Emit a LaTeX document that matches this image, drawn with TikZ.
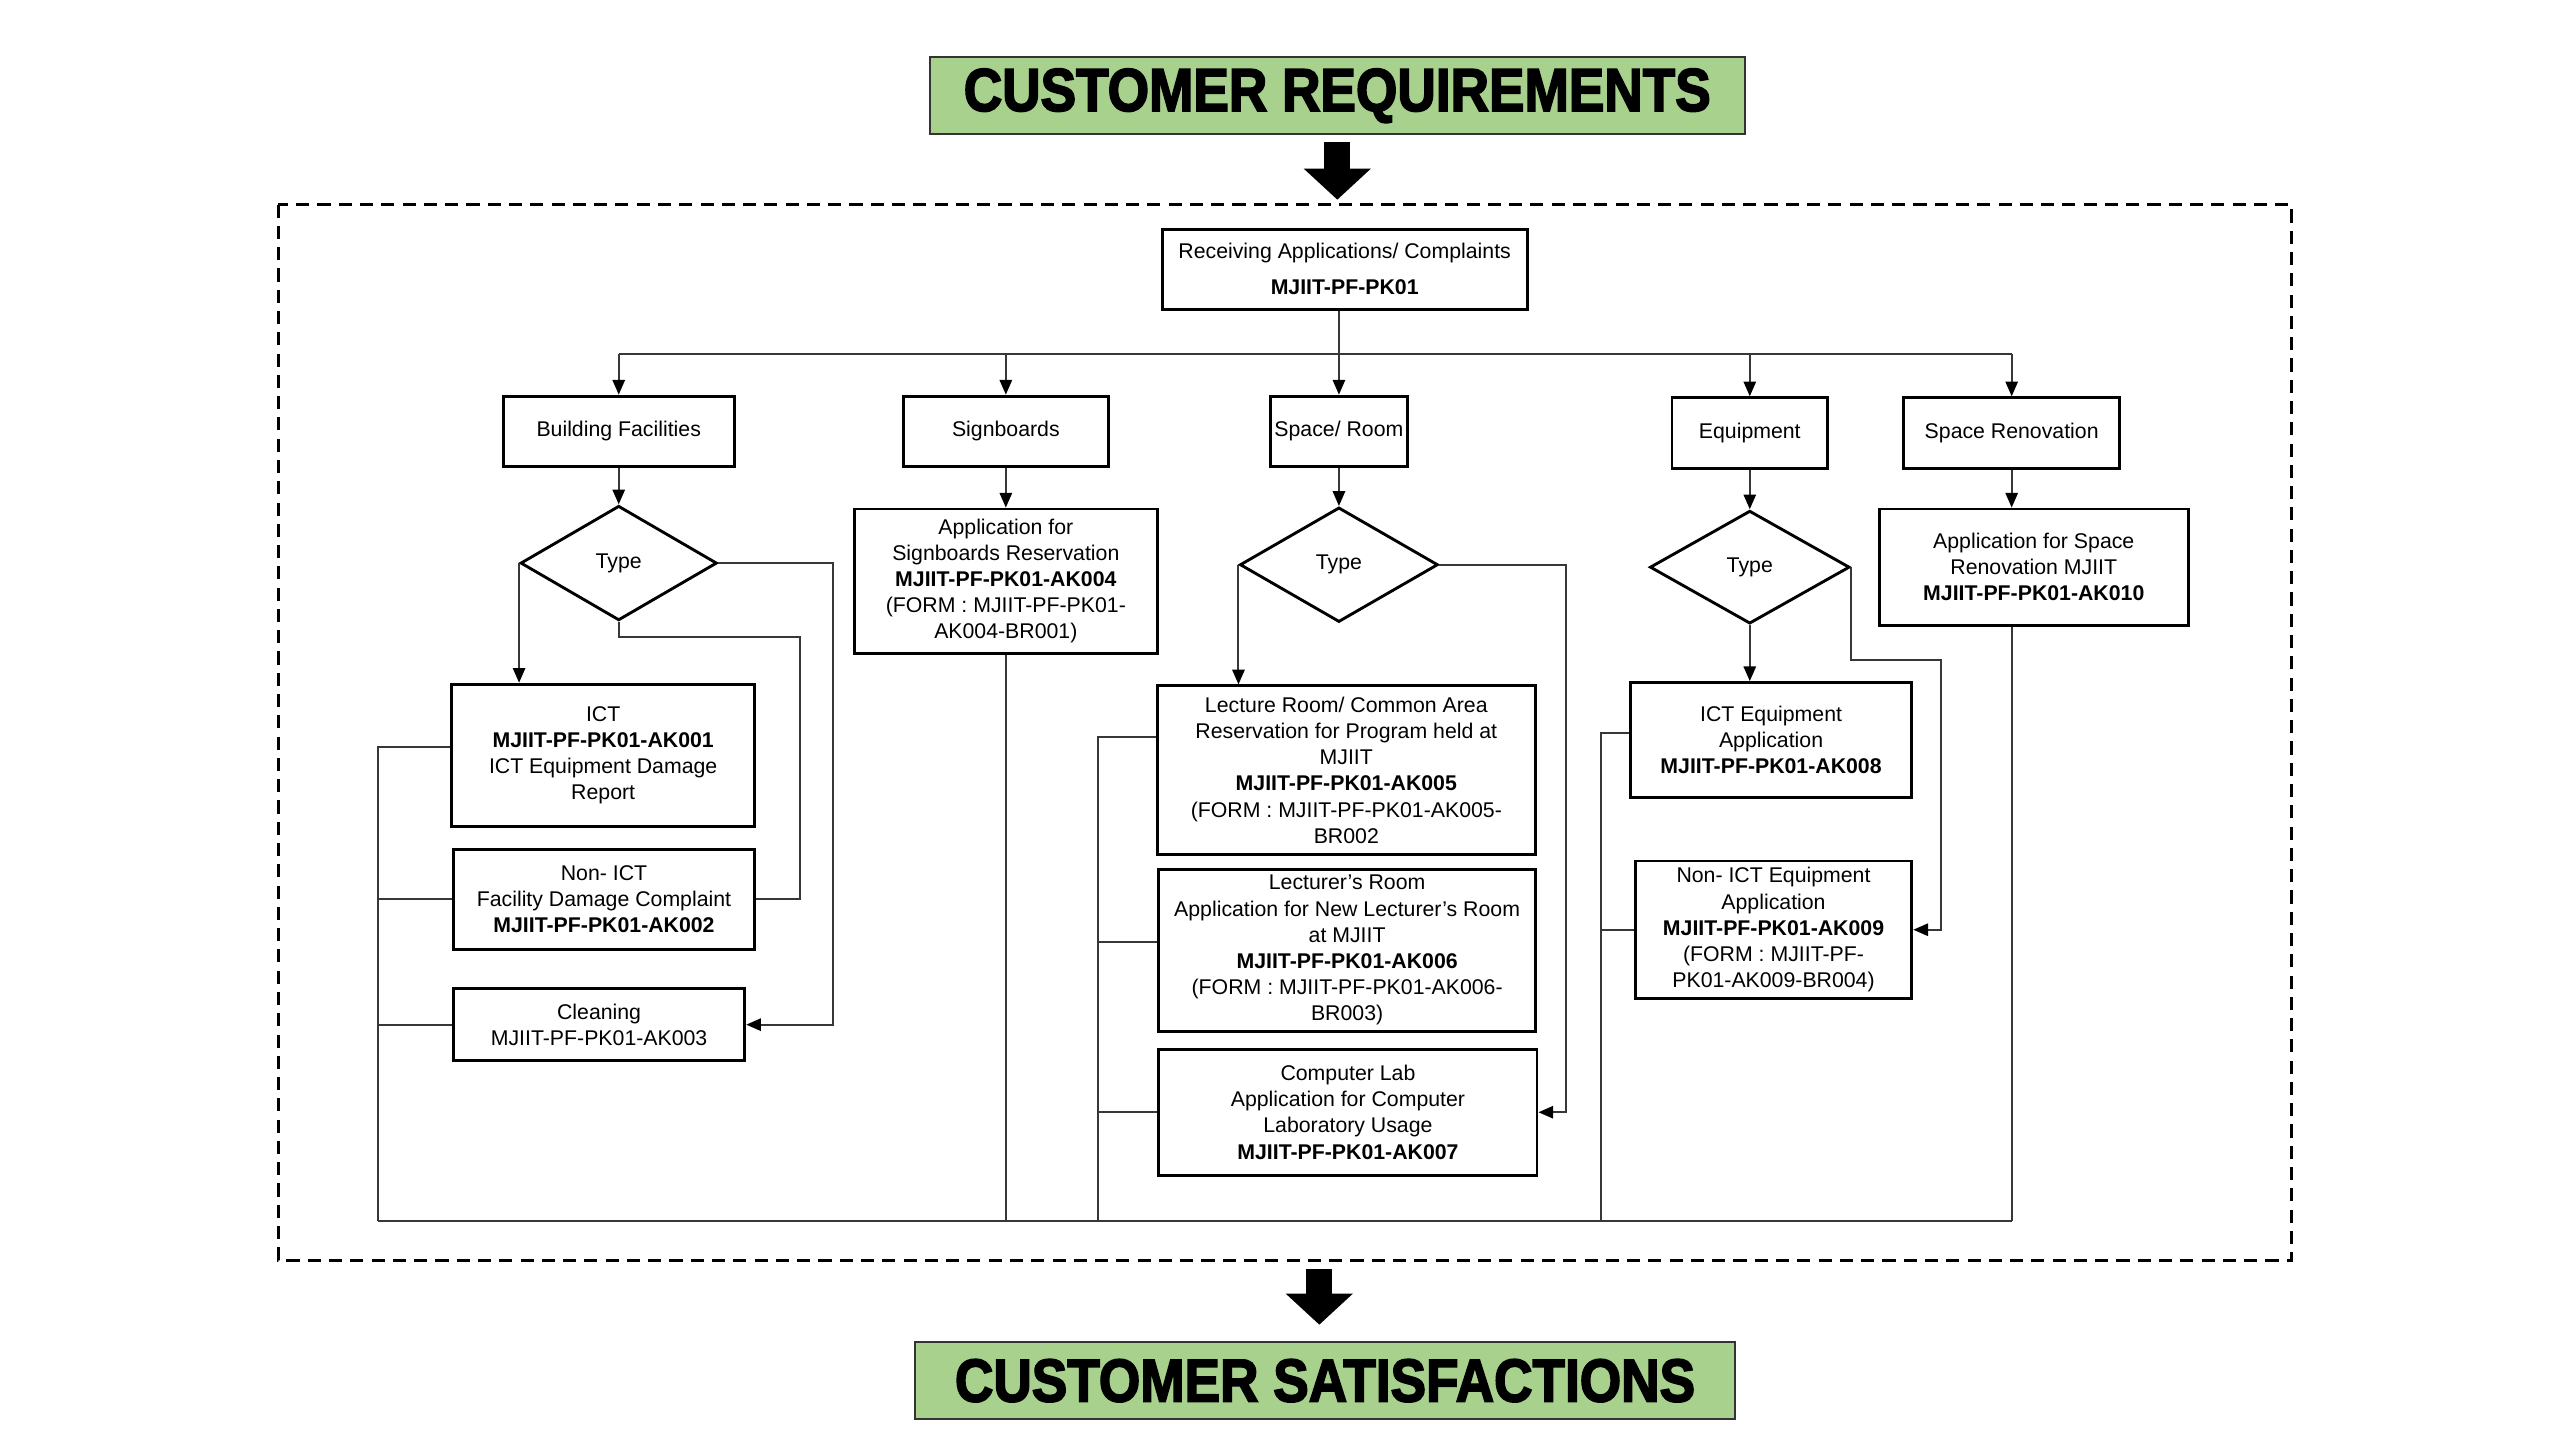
\documentclass[tikz,border=0pt]{standalone}
\usepackage{fontspec}
\setmainfont{Liberation Sans}
\newfontfamily\heavyfont[FakeBold=3]{Liberation Sans}
\usepackage{graphicx}
\usetikzlibrary{arrows.meta,shapes.geometric,positioning}
\definecolor{reqgreen}{RGB}{169,209,142}
\definecolor{linegray}{RGB}{55,55,55}
\tikzstyle{flowbox} = [draw=black, line width=1pt, rectangle, align=center, inner sep=1pt, font=\fontsize{7.4}{9.1}\selectfont]
\tikzstyle{decision} = [draw=black, line width=1pt, diamond, aspect=1.7, inner sep=0pt, font=\fontsize{7.4}{9.1}\selectfont]
\tikzstyle{titlebox} = [draw=black!80, line width=0.8pt, fill=reqgreen, minimum width=99.6mm, minimum height=9.4mm, font=\fontsize{20}{24}\selectfont\heavyfont\bfseries]
\tikzstyle{link} = [color=linegray, line width=0.7pt]
\tikzstyle{linkarrow} = [link, -{Triangle[length=1.8mm,width=1.5mm,color=black]}]
\tikzstyle{bigarrow} = [black, line width=3.2mm, -{Triangle[length=3.8mm,width=8mm]}]

\begin{document}
\begin{tikzpicture}[x=0.2mm, y=-0.2mm]
\fill[white] (0,0) rectangle (1564,880);
\useasboundingbox (0,0) rectangle (1564,880);

% Requirements and satisfactions
\node[titlebox] (req) at (817,58.5) {\scalebox{0.925}[1.05]{CUSTOMER REQUIREMENTS}};
\node[titlebox, minimum width=100.2mm] (sat) at (809.5,843.5) {\scalebox{0.925}[1.05]{CUSTOMER SATISFACTIONS}};
\coordinate (frametop) at (818,122);
\coordinate (framebot) at (806,775);
\coordinate (satin) at ([yshift=2mm]sat.north);
\draw[bigarrow] ([yshift=-0.8mm]req.south) -- (req.south |- frametop);
\draw[bigarrow] (framebot) -- (framebot |- satin);

% Process frame
\draw[line width=0.9pt, dash pattern=on 1.6mm off 1mm] (170,125) rectangle (1400,770);

% Receiving and categories
\node[flowbox, minimum width=44.6mm, minimum height=9.8mm] (rec) at (821.5,164.5) {Receiving Applications/ Complaints\\[1.2mm] \textbf{MJIIT-PF-PK01}};
\node[flowbox, minimum width=28.2mm, minimum height=8.6mm] (bf) at (378,263.5) {Building Facilities};
\node[flowbox, minimum width=25mm, minimum height=8.6mm] (sb) at (614.5,263.5) {Signboards};
\node[flowbox, minimum width=16.8mm, minimum height=8.6mm] (sp) at (818,263.5) {Space/ Room};
\node[flowbox, minimum width=19mm, minimum height=8.6mm] (eq) at (1069,264.5) {Equipment};
\node[flowbox, minimum width=26.4mm, minimum height=8.6mm] (sr) at (1229,264.5) {Space Renovation};

% Type decisions
\node[decision, minimum width=24mm, minimum height=14mm] (bft) at (378,344) {Type};
\node[decision, minimum width=24.2mm, minimum height=14mm] (spt) at (818,345) {Type};
\node[decision, minimum width=24.4mm, minimum height=13.8mm] (eqt) at (1069,346.5) {Type};

% Building facilities
\node[flowbox, minimum width=37mm, minimum height=17.4mm] (ict) at (368.5,461.5) {ICT\\ \textbf{MJIIT-PF-PK01-AK001}\\ ICT Equipment Damage\\ Report};
\node[flowbox, minimum width=36.8mm, minimum height=12.2mm] (nonict) at (369,549.5) {Non- ICT\\ Facility Damage Complaint\\ \textbf{MJIIT-PF-PK01-AK002}};
\node[flowbox, minimum width=35.6mm, minimum height=8.8mm] (clean) at (366,626) {Cleaning\\ MJIIT-PF-PK01-AK003};

% Signboards
\node[flowbox, minimum width=37mm, minimum height=17.6mm] (sbapp) at (614.5,355) {Application for\\ Signboards Reservation\\ \textbf{MJIIT-PF-PK01-AK004}\\ (FORM : MJIIT-PF-PK01-\\ AK004-BR001)};

% Space / room
\node[flowbox, minimum width=46.2mm, minimum height=20.6mm] (lect) at (822.5,470.5) {Lecture Room/ Common Area\\ Reservation for Program held at\\ MJIIT\\ \textbf{MJIIT-PF-PK01-AK005}\\ (FORM : MJIIT-PF-PK01-AK005-\\ BR002};
\node[flowbox, minimum width=46mm, minimum height=19.8mm] (lectr) at (823,580.5) {Lecturer’s Room\\ Application for New Lecturer’s Room\\ at MJIIT\\ \textbf{MJIIT-PF-PK01-AK006}\\ (FORM : MJIIT-PF-PK01-AK006-\\ BR003)};
\node[flowbox, minimum width=46.2mm, minimum height=15.4mm] (lab) at (823.5,679.5) {Computer Lab\\ Application for Computer\\ Laboratory Usage\\ \textbf{MJIIT-PF-PK01-AK007}};

% Equipment
\node[flowbox, minimum width=34.4mm, minimum height=14mm] (ictq) at (1082,452) {ICT Equipment\\ Application\\ \textbf{MJIIT-PF-PK01-AK008}};
\node[flowbox, minimum width=33.8mm, minimum height=16.8mm] (nonictq) at (1083.5,568) {Non- ICT Equipment\\ Application\\ \textbf{MJIIT-PF-PK01-AK009}\\ (FORM : MJIIT-PF-\\ PK01-AK009-BR004)};

% Space renovation
\node[flowbox, minimum width=37.8mm, minimum height=14.2mm] (srapp) at (1242.5,346.5) {Application for Space\\ Renovation MJIIT\\ \textbf{MJIIT-PF-PK01-AK010}};

% Spread to the categories
\coordinate (bus) at (818,216);
\draw[link] (bus |- rec.south) -- (bus);
\draw[link] (bus -| bf) -- (bus -| sr);
\foreach \cat in {bf,sb,sp,eq,sr}
  \draw[linkarrow] (bus -| \cat) -- (\cat.north);
\draw[linkarrow] (bf) -- (bft);
\draw[linkarrow] (sb) -- (sbapp);
\draw[linkarrow] (sp) -- (spt);
\draw[linkarrow] (eq) -- (eqt);
\draw[linkarrow] (sr.south) -- (sr.south |- srapp.north);

% Building facilities branches
\draw[linkarrow] (bft.west) -- (bft.west |- ict.north);
\draw[link] (bft.south) -- ++(0,9) -| ([xshift=5.4mm]nonict.east) -- (nonict.east);
\draw[linkarrow] (bft.east) -| ([xshift=10.6mm]clean.east) -- (clean.east);

% Space / room branches
\draw[linkarrow] (spt.west) -- (spt.west |- lect.north);
\draw[linkarrow] (spt.east) -| ([xshift=3.4mm]lab.east) -- (lab.east);

% Equipment branches
\draw[linkarrow] (eqt.south) -- (eqt.south |- ictq.north);
\draw[linkarrow] (eqt.east) -- ++(0,57) -| ([xshift=3.4mm]nonictq.east) -- (nonictq.east);

% Collecting lines
\coordinate (bfend) at (231,746);
\coordinate (spend) at (671,746);
\coordinate (eqend) at (978,746);
\draw[link] ([yshift=1mm]ict.west) -| (bfend);
\draw[link] (nonict.west) -- (nonict.west -| bfend);
\draw[link] (clean.west) -- (clean.west -| bfend);
\draw[link] ([yshift=4mm]lect.west) -| (spend);
\draw[link] ([yshift=1mm]lectr.west) -- ([yshift=1mm]lectr.west -| spend);
\draw[link] (lab.west) -- (lab.west -| spend);
\draw[link] ([yshift=0.8mm]ictq.west) -| (eqend);
\draw[link] (nonictq.west) -- (nonictq.west -| eqend);
\draw[link] (sbapp) -- (sbapp |- bfend);
\draw[link] (srapp.south -| sr) -- (bfend -| sr);
\draw[link] (bfend) -- (bfend -| sr);
\end{tikzpicture}
\end{document}
